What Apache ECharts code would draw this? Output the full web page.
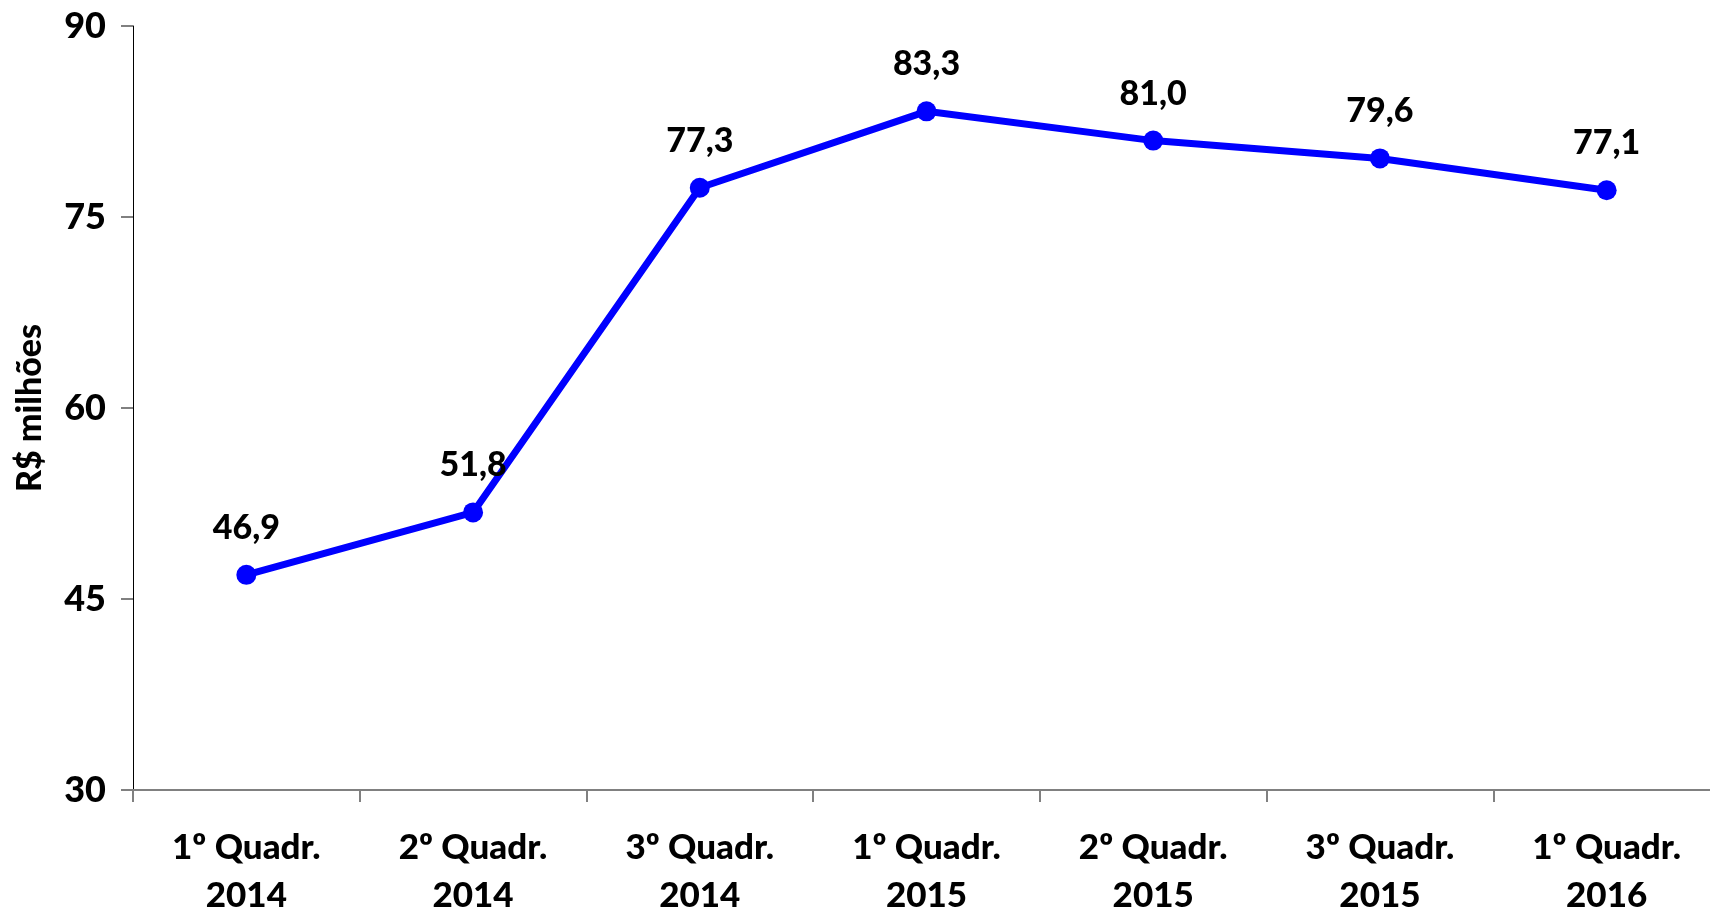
<!DOCTYPE html>
<html>
<head>
<meta charset="utf-8">
<script src="https://cdn.jsdelivr.net/npm/echarts@6/dist/echarts.min.js"></script>
<style>
html,body{margin:0;padding:0;background:#fff;}
#chart{width:1710px;height:912px;}
</style>
</head>
<body>
<div id="chart"></div>
<script>
const categories = ['1º Quadr.\n2014','2º Quadr.\n2014','3º Quadr.\n2014','1º Quadr.\n2015','2º Quadr.\n2015','3º Quadr.\n2015','1º Quadr.\n2016'];
const values = [46.9, 51.8, 77.3, 83.3, 81.0, 79.6, 77.1];
const yName = 'R$ milhões';
const yMin = 30, yMax = 90, yStep = 15;

const FONT = 'Lato';
const W = 900;
const chart = echarts.init(document.getElementById('chart'));
chart.setOption({
  animation: false,
  backgroundColor: '#ffffff',
  grid: {left: 133, top: 26, width: 1587, height: 764, containLabel: false, outerBoundsMode: 'none'},
  xAxis: {
    type: 'category',
    data: categories,
    boundaryGap: true,
    axisLine: {lineStyle: {color: '#808080', width: 2}},
    axisTick: {show: true, alignWithLabel: false, length: 12, lineStyle: {color: '#808080', width: 2}},
    axisLabel: {
      fontFamily: FONT, fontWeight: W, fontSize: 35, color: '#000',
      lineHeight: 48, margin: 34, interval: 0
    },
    splitLine: {show: false}
  },
  yAxis: {
    type: 'value',
    min: yMin, max: yMax, interval: yStep,
    name: yName,
    nameLocation: 'middle',
    nameGap: 86,
    nameRotate: 90,
    nameTextStyle: {fontFamily: FONT, fontWeight: W, fontSize: 34, color: '#000'},
    axisLine: {show: true, lineStyle: {color: '#000', width: 1}},
    axisTick: {show: true, length: 12, lineStyle: {color: '#808080', width: 2}},
    axisLabel: {fontFamily: FONT, fontWeight: W, fontSize: 36, color: '#000', margin: 27},
    splitLine: {show: false}
  },
  series: [{
    type: 'line',
    data: values,
    symbol: 'circle',
    symbolSize: 20,
    lineStyle: {color: '#0000FF', width: 7},
    itemStyle: {color: '#0000FF'},
    label: {
      show: true, position: 'top', distance: 20,
      fontFamily: FONT, fontWeight: W, fontSize: 34, color: '#000',
      formatter: p => p.value.toFixed(1).replace('.', ',')
    }
  }]
});
</script>
</body>
</html>
